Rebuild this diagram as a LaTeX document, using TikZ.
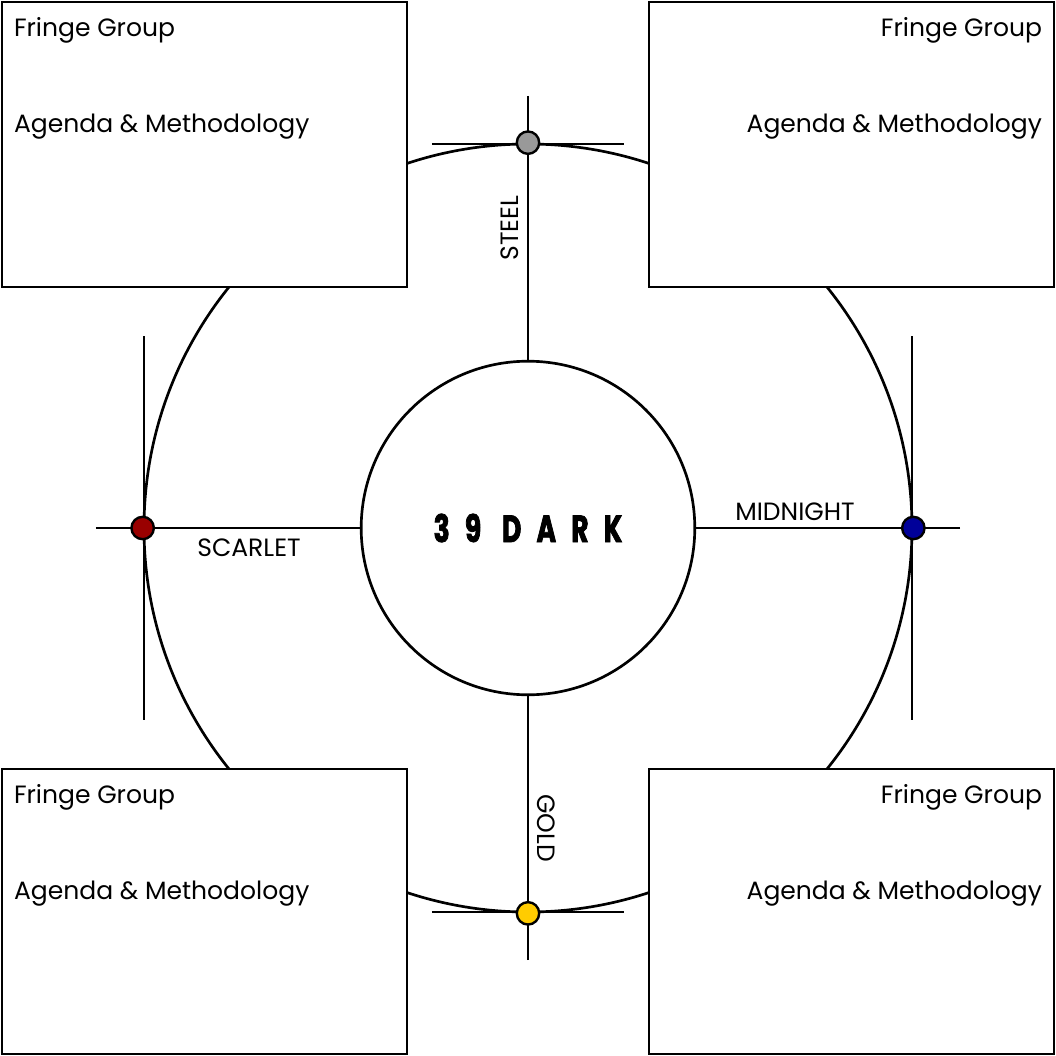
\documentclass[tikz,border=0pt]{standalone}
\usepackage{fontspec}
\setmainfont{Poppins}
\newfontfamily\darkfont{Poppins}[FakeStretch=0.7,FakeBold=2,LetterSpace=40]
\usetikzlibrary{calc}
\definecolor{dkedge}{RGB}{0,0,0}
\definecolor{dksteel}{RGB}{153,153,153}
\definecolor{dkscarlet}{RGB}{153,0,0}
\definecolor{dkmidnight}{RGB}{0,0,153}
\definecolor{dkgold}{RGB}{255,204,0}
\tikzset{
  dkline/.style={draw=dkedge, line width=1.9pt},
  fringe/.style={
    draw=dkedge, fill=white, line width=1.9pt, inner sep=0pt,
    minimum width=10.125cm, minimum height=7.125cm
  },
  ring/.style={circle, draw=dkedge, line width=1.9pt, inner sep=0pt},
  pin/.style={circle, draw=dkedge, line width=1.7pt, inner sep=0pt, minimum size=5.6mm},
  lbl/.style={font=\fontsize{17.8}{21}\selectfont, inner sep=0pt},
  axis/.style={font=\fontsize{17.8}{21}\selectfont, inner sep=0pt},
  hubtext/.style={font=\darkfont\bfseries\fontsize{27}{30}\selectfont}
}

\begin{document}
\begin{tikzpicture}[x=1cm,y=1cm]
  \useasboundingbox (-13.2,-13.2) rectangle (13.2,13.2);
  \node[ring, minimum size=19.2cm] (rim) at (0,0) {};

  \node[fringe] (tl) at (-8.09,9.59) {};
  \node[fringe] (tr) at (8.09,9.59) {};
  \node[fringe] (bl) at (-8.09,-9.59) {};
  \node[fringe] (br) at (8.09,-9.59) {};

  \node[lbl, anchor=base west] at ($(tl.north west)+(0.33,-0.9)$) {Fringe Group};
  \node[lbl, anchor=base west] at ($(tl.north west)+(0.33,-3.3)$) {Agenda \& Methodology};
  \node[lbl, anchor=base east] at ($(tr.north east)+(-0.33,-0.9)$) {Fringe Group};
  \node[lbl, anchor=base east] at ($(tr.north east)+(-0.33,-3.3)$) {Agenda \& Methodology};
  \node[lbl, anchor=base west] at ($(bl.north west)+(0.33,-0.9)$) {Fringe Group};
  \node[lbl, anchor=base west] at ($(bl.north west)+(0.33,-3.3)$) {Agenda \& Methodology};
  \node[lbl, anchor=base east] at ($(br.north east)+(-0.33,-0.9)$) {Fringe Group};
  \node[lbl, anchor=base east] at ($(br.north east)+(-0.33,-3.3)$) {Agenda \& Methodology};

  \node[ring, fill=white, minimum size=8.34cm, hubtext] (hub) at (0,0) {39 DARK};

  % spokes and cross ticks
  \coordinate (steelend) at (0,10.8);
  \coordinate (goldend) at (0,-10.8);
  \coordinate (scarletend) at (-10.8,0);
  \coordinate (midnightend) at (10.8,0);
  \coordinate (steelw) at (-2.4,9.6);
  \coordinate (steele) at (2.4,9.6);
  \coordinate (goldw) at (-2.4,-9.6);
  \coordinate (golde) at (2.4,-9.6);
  \coordinate (scarletn) at (-9.6,4.8);
  \coordinate (scarlets) at (-9.6,-4.8);
  \coordinate (midnightn) at (9.6,4.8);
  \coordinate (midnights) at (9.6,-4.8);

  \draw[dkline] (steelend) -- (hub.north);
  \draw[dkline] (goldend) -- (hub.south);
  \draw[dkline] (scarletend) -- (hub.west);
  \draw[dkline] (midnightend) -- (hub.east);
  \draw[dkline] (steelw) -- (steele);
  \draw[dkline] (goldw) -- (golde);
  \draw[dkline] (scarletn) -- (scarlets);
  \draw[dkline] (midnightn) -- (midnights);

  \node[pin, fill=dksteel] (steel) at (rim.north) {};
  \node[pin, fill=dkgold] (gold) at (rim.south) {};
  \node[pin, fill=dkscarlet] (scarlet) at (rim.west) {};
  \node[pin, fill=dkmidnight] (midnight) at (rim.east) {};

  \node[axis, rotate=90] (steellbl) at (-0.45,7.5) {STEEL};
  \node[axis, rotate=-90] (goldlbl) at (0.45,-7.5) {GOLD};
  \node[axis] (scarletlbl) at (-6.975,-0.5) {SCARLET};
  \node[axis] (midnightlbl) at (6.675,0.4) {MIDNIGHT};
\end{tikzpicture}
\end{document}
